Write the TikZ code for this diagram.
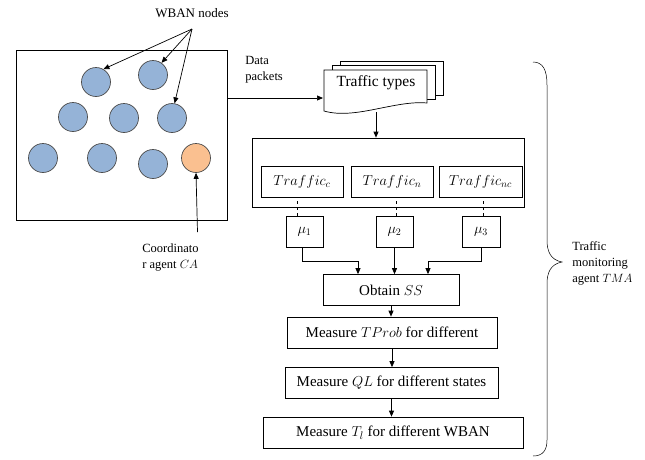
\documentclass[tikz,border=0pt]{standalone}
\usepackage{fontspec}
\setmainfont{Liberation Serif}
\usetikzlibrary{positioning,calc,arrows.meta}

\definecolor{nodeblue}{HTML}{95B3D7}
\definecolor{nodeorange}{HTML}{FAC090}

\tikzset{
	box/.style={draw, rectangle, minimum height=31pt, inner sep=2pt, font=\fontsize{15}{17}\selectfont},
	wban/.style={circle, draw=black!70, fill=nodeblue, minimum size=29pt, inner sep=0pt},
	arr/.style={-{Triangle[length=6pt,width=5pt]}},
	lbl/.style={align=left, inner sep=0pt, font=\fontsize{12.5}{16}\selectfont},
	page/.style={draw, fill=white},
}

\begin{document}
\begin{tikzpicture}[x=1pt, y=-1pt, line width=0.7pt]
		\useasboundingbox (0,0) rectangle (645,459);
		% sensor field
		\node[draw, minimum width=211pt, minimum height=170pt] (field) at (121.5,135) {};
		\node[wban] (n1) at (96,82) {};
		\node[wban] (n2) at (153,75) {};
		\node[wban] (n3) at (73,117) {};
		\node[wban] (n4) at (124,118) {};
		\node[wban] (n5) at (172,118) {};
		\node[wban] (n6) at (43,158) {};
		\node[wban] (n7) at (102,158) {};
		\node[wban] (n8) at (153,164) {};
		\node[wban, fill=nodeorange] (ca) at (196,158) {};
		\node[font=\fontsize{13}{15}\selectfont] (wlabel) at (192,13) {WBAN nodes};
		\coordinate (wsrc) at (192,29);
		\draw[arr] (wsrc) -- (n1.60);
		\draw[arr] (wsrc) -- (n2.55);
		\draw[arr] (wsrc) -- (n5.80);
		\node[lbl, anchor=north west] (calbl) at (142,243) {Coordinato\\r agent $CA$};
		\coordinate (capt) at (197.5,232);
		\draw[arr] (capt) -- (ca.south);
		% traffic types (document stack)
		\draw[page] (340,61) rectangle (443,95);
		\draw[page] (332,65) rectangle (435,99);
		\draw[page] (324,70) -- (427,70) -- (427,103) .. controls (395,100) and (355,120) .. (324,111) -- cycle;
		\node[font=\fontsize{15.5}{17}\selectfont] (types) at (376,83) {Traffic types};
		\coordinate (docin) at (323,98);
		\coordinate (docout) at (376,112);
		\node[lbl, anchor=north west] (datalbl) at (245,56) {Data\\packets};
		\draw[arr] (field.east |- docin) -- (docin);
		% traffic classes
		\node[draw, minimum width=272pt, minimum height=69pt] (group) at (388,172.5) {};
		\draw[arr] (docout) -- (docout |- group.north);
		\node[box, font=\fontsize{14}{16}\selectfont, minimum width=82pt] (tc) at (302,181.5) {$Traffic_c$};
		\node[box, font=\fontsize{14}{16}\selectfont, minimum width=82pt] (tn) at (392,181.5) {$Traffic_n$};
		\node[box, font=\fontsize{14}{16}\selectfont, minimum width=83pt] (tnc) at (480.5,181.5) {$Traffic_{nc}$};
		\node[box, font=\fontsize{14}{16}\selectfont, minimum width=37pt] (mu1) at (304.5,231.5) {$\mu_1$};
		\node[box, font=\fontsize{14}{16}\selectfont, minimum width=37pt] (mu2) at (394.5,231.5) {$\mu_2$};
		\node[box, font=\fontsize{14}{16}\selectfont, minimum width=38pt] (mu3) at (481,231.5) {$\mu_3$};
		\draw[dashed] ([xshift=-7pt]mu1.north) -- ([xshift=-7pt]mu1.north |- tc.south);
		\draw[dashed] ([xshift=2pt]mu2.north) -- ([xshift=2pt]mu2.north |- tn.south);
		\draw[dashed] ([xshift=2pt]mu3.north) -- ([xshift=2pt]mu3.north |- tnc.south);
		% processing steps
		\node[box, minimum width=136pt] (obtain) at (391,290) {Obtain $SS$};
		\node[box, minimum width=210pt] (tprob) at (392,332.5) {Measure $TProb$ for different};
		\node[box, minimum width=213pt] (ql) at (391.5,383) {Measure $QL$ for different states};
		\node[box, minimum width=260pt] (tl) at (393,432.5) {Measure $T_l$ for different WBAN};
		\draw[arr] ([xshift=-2pt]mu1.south) -- ++(0,14) -| ([xshift=-33pt]obtain.north);
		\draw[arr] (mu2.south) -- (mu2.south |- obtain.north);
		\draw[arr] (mu3.south) -- ++(0,14) -| ([xshift=37pt]obtain.north);
		\draw[arr] (obtain.south) -- (obtain.south |- tprob.north);
		\draw[arr] (tprob.south) -- (tprob.south |- ql.north);
		\draw[arr] (ql.south) -- (ql.south |- tl.north);
		% agent brace
		\draw[line width=0.5pt] (533,62) .. controls (543,62) and (547,70) .. (547,85) -- (547,240)
			.. controls (547,252) and (551,260) .. (562,262) .. controls (551,264) and (547,272) .. (547,284)
			-- (547,440) .. controls (547,450) and (543,456) .. (533,456);
		\node[lbl, anchor=west] (tmalbl) at (572,263) {Traffic\\monitoring\\agent $TMA$};
	\end{tikzpicture}
\end{document}
